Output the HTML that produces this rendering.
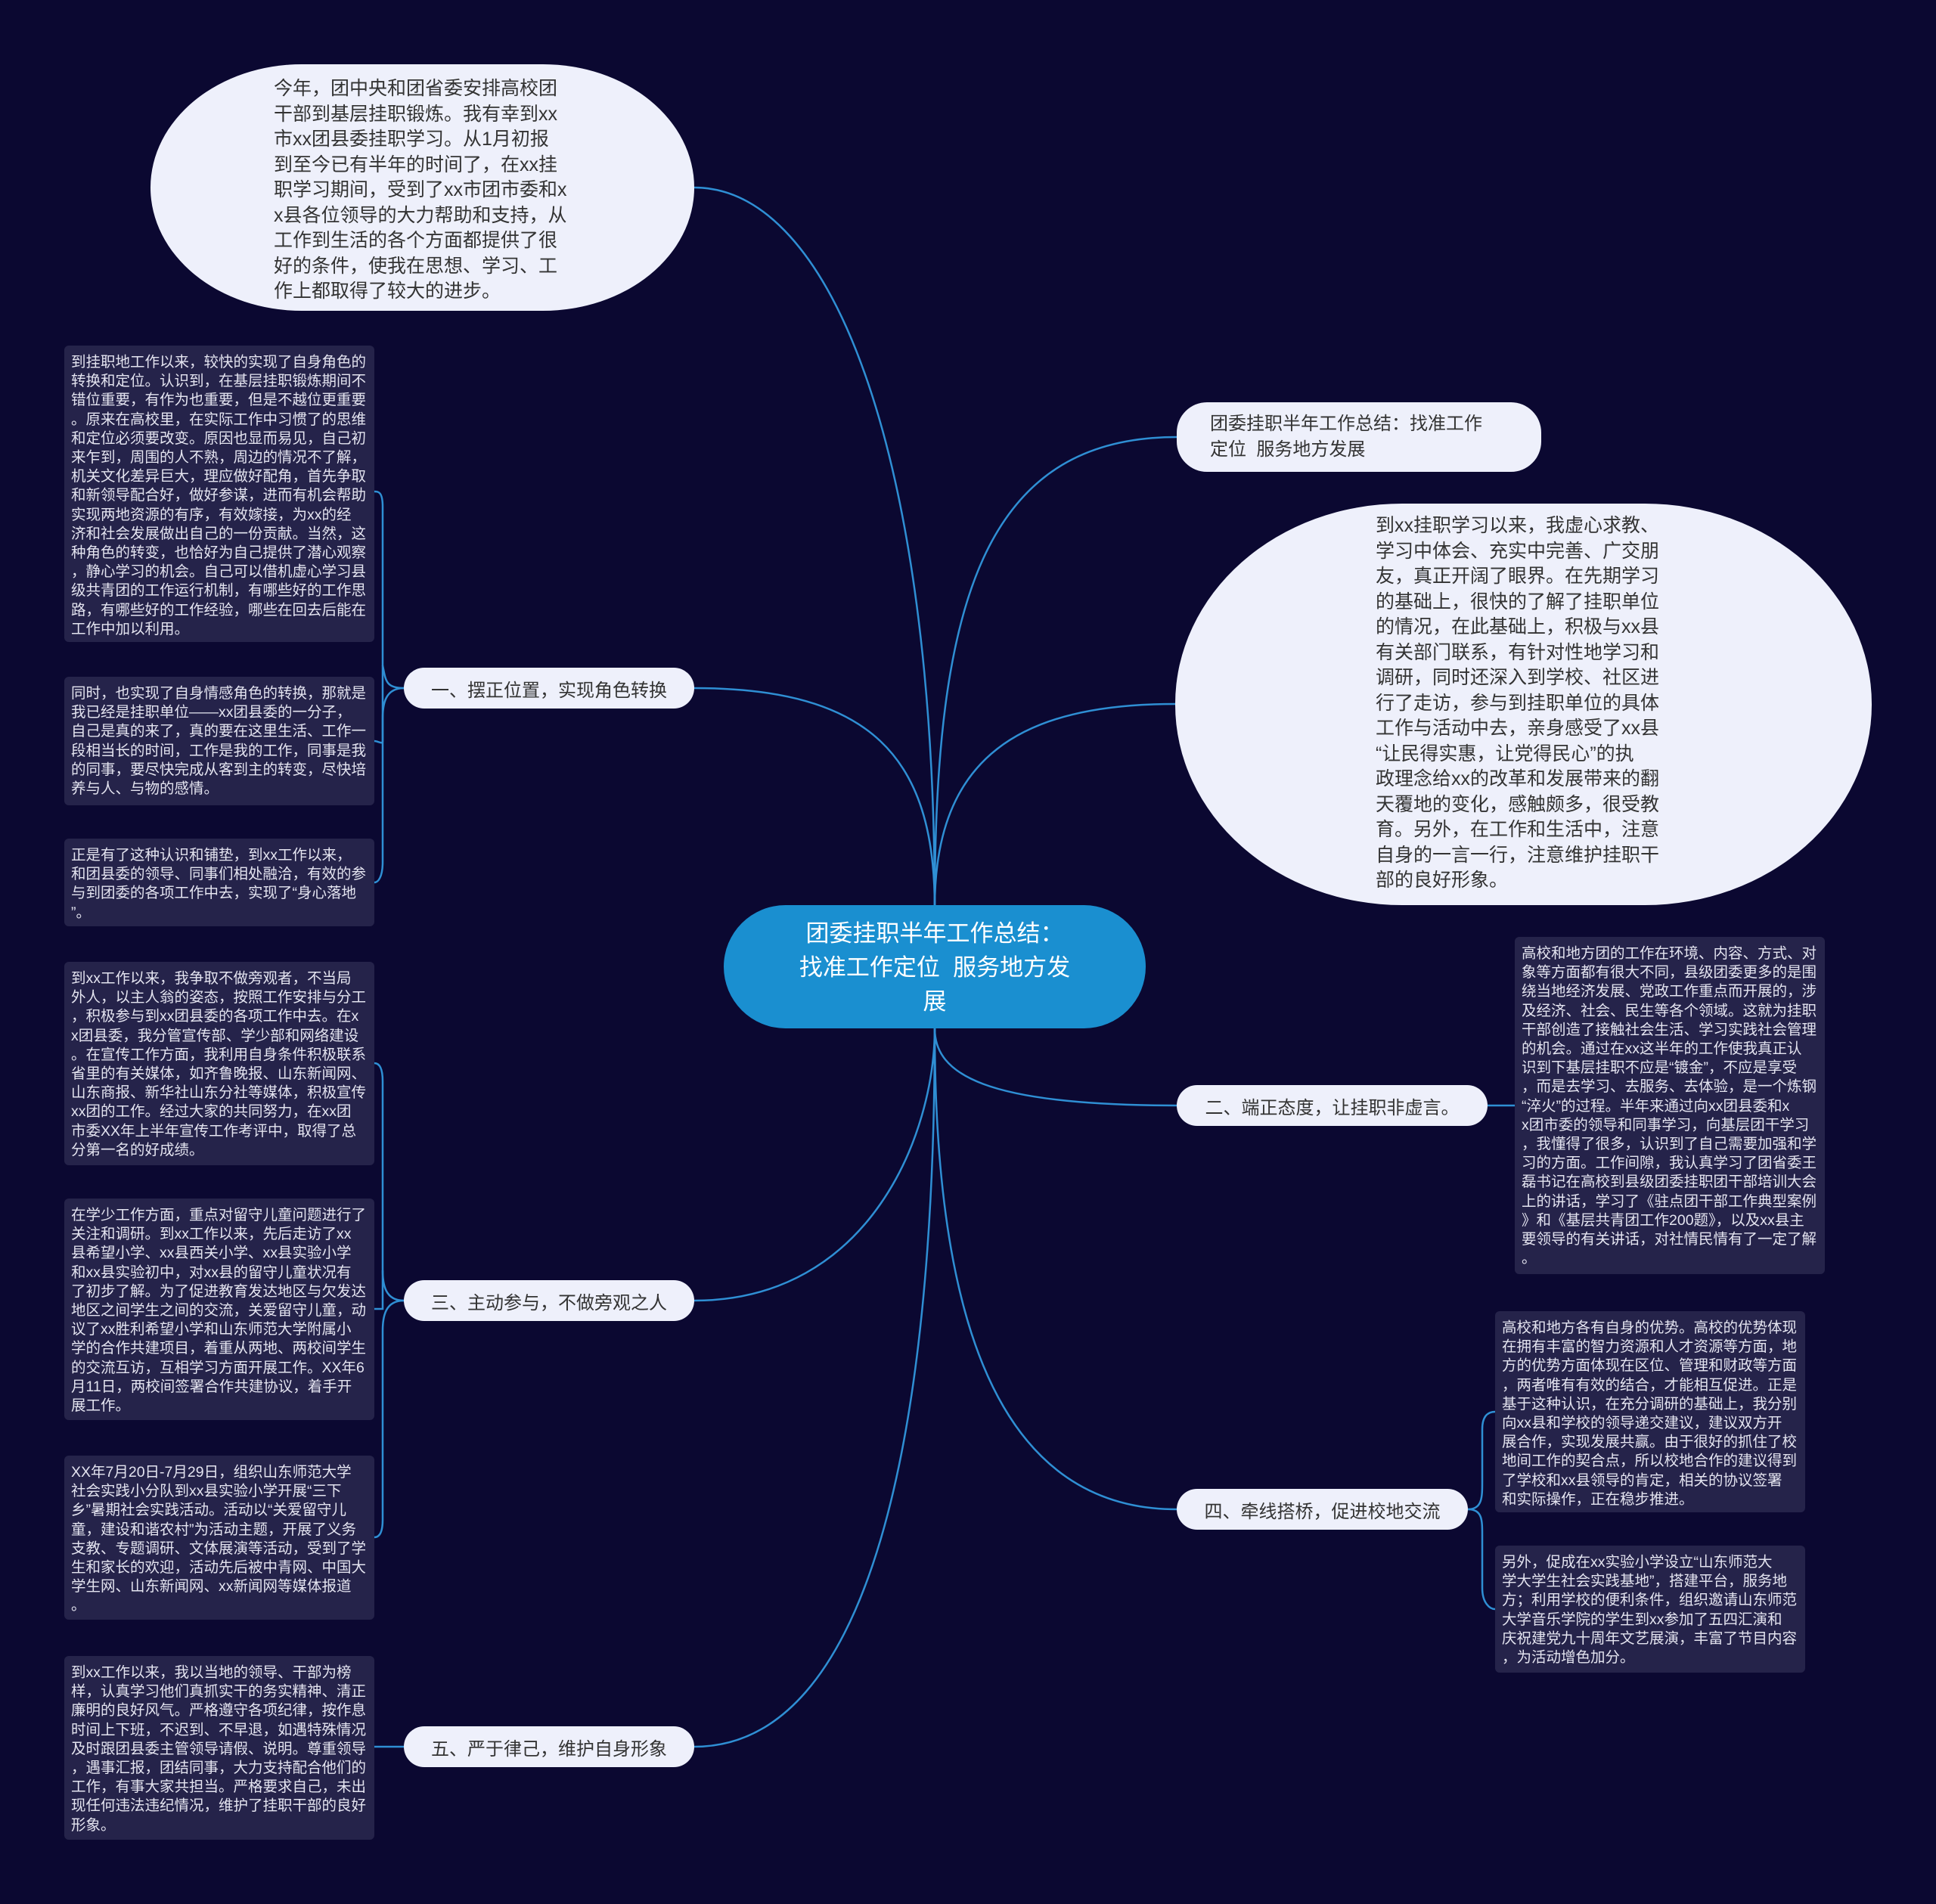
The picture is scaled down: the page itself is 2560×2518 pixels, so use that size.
<!DOCTYPE html>
<html><head><meta charset="utf-8">
<style>
body{margin:0;width:2560px;height:2518px;background:#0b0831;position:relative;overflow:hidden;font-family:"Liberation Sans","Noto Sans CJK SC",sans-serif;}
.a{position:absolute;box-sizing:border-box;}
.leaf{background:#25234a;color:#e4e4f0;font-size:19.5px;line-height:25.2px;padding:10px 9px;border-radius:6px;white-space:pre-line;}
.pill{background:#eef0fb;color:#333;font-size:24px;border-radius:40px;display:flex;align-items:center;justify-content:center;}
.ell{background:#eef0fb;color:#333;font-size:25px;line-height:33.5px;white-space:pre-line;}
svg{position:absolute;left:0;top:0;}
</style></head><body>
<svg width="2560" height="2518" fill="none" stroke="#2f8fd4" stroke-width="2.5">
<path d="M1236,1200 C1236,600 1100,248 918,248"/>
<path d="M1236,1200 C1236,800 1300,578 1556,578"/>
<path d="M1236,1200 C1236,1000 1350,931 1554,931"/>
<path d="M1236,1360 C1236,1420 1300,1462 1556,1462"/>
<path d="M1236,1360 C1236,1700 1300,1996 1556,1996"/>
<path d="M1236,1200 C1236,1000 1150,910 918,910"/>
<path d="M1236,1360 C1236,1500 1150,1720 918,1720"/>
<path d="M1236,1360 C1236,1900 1150,2310 918,2310"/>
<path d="M1967,1462 L2003,1462"/>
<path d="M534,910 C510,910 510,900 506,880 L506,670 C506,650 500,650 495,650"/>
<path d="M506,880 L506,980 C506,985 500,980 495,980"/>
<path d="M534,910 C510,910 506,930 506,950 L506,1140 C506,1160 500,1167 495,1167"/>
<path d="M534,1720 C510,1720 506,1700 506,1680 L506,1430 C506,1410 500,1406 495,1406"/>
<path d="M506,1680 L506,1731 L495,1731"/>
<path d="M534,1720 C510,1720 506,1740 506,1760 L506,2010 C506,2030 500,2033 495,2033"/>
<path d="M534,2310 C510,2310 495,2310 495,2310"/>
<path d="M1941,1996 C1960,1996 1960,1980 1960,1960 L1960,1890 C1960,1870 1970,1867 1977,1867"/>
<path d="M1941,1996 C1960,1996 1960,2010 1960,2030 L1960,2100 C1960,2120 1970,2128 1977,2128"/>
</svg>

<div class="a ell" style="left:199px;top:85px;width:719px;height:326px;padding:16px 0 0 163px;border-radius:200px / 163px;">今年，团中央和团省委安排高校团
干部到基层挂职锻炼。我有幸到xx
市xx团县委挂职学习。从1月初报
到至今已有半年的时间了，在xx挂
职学习期间，受到了xx市团市委和x
x县各位领导的大力帮助和支持，从
工作到生活的各个方面都提供了很
好的条件，使我在思想、学习、工
作上都取得了较大的进步。</div>

<div class="a" style="left:957px;top:1197px;width:558px;height:163px;background:#1a8fd0;border-radius:82px;color:#fff;font-size:31px;line-height:45px;text-align:center;padding-top:15px;">团委挂职半年工作总结：<br>找准工作定位&nbsp; 服务地方发<br>展</div>

<div class="a pill" style="left:1556px;top:532px;width:482px;height:92px;font-size:24px;line-height:34px;justify-content:flex-start;padding-left:44px;">团委挂职半年工作总结：找准工作<br>定位&nbsp; 服务地方发展</div>

<div class="a ell" style="left:1554px;top:666px;width:921px;height:531px;padding:13px 0 0 265px;border-radius:300px / 265px;">到xx挂职学习以来，我虚心求教、
学习中体会、充实中完善、广交朋
友，真正开阔了眼界。在先期学习
的基础上，很快的了解了挂职单位
的情况，在此基础上，积极与xx县
有关部门联系，有针对性地学习和
调研，同时还深入到学校、社区进
行了走访，参与到挂职单位的具体
工作与活动中去，亲身感受了xx县
“让民得实惠，让党得民心”的执
政理念给xx的改革和发展带来的翻
天覆地的变化，感触颇多，很受教
育。另外，在工作和生活中，注意
自身的一言一行，注意维护挂职干
部的良好形象。</div>

<div class="a pill" style="left:534px;top:883px;width:384px;height:54px;">一、摆正位置，实现角色转换</div>
<div class="a pill" style="left:534px;top:1693px;width:384px;height:54px;">三、主动参与，不做旁观之人</div>
<div class="a pill" style="left:534px;top:2283px;width:384px;height:54px;">五、严于律己，维护自身形象</div>
<div class="a pill" style="left:1556px;top:1435px;width:411px;height:54px;">二、端正态度，让挂职非虚言。</div>
<div class="a pill" style="left:1556px;top:1969px;width:385px;height:54px;">四、牵线搭桥，促进校地交流</div>

<div class="a leaf" style="left:85px;top:457px;width:410px;height:392px;">到挂职地工作以来，较快的实现了自身角色的
转换和定位。认识到，在基层挂职锻炼期间不
错位重要，有作为也重要，但是不越位更重要
。原来在高校里，在实际工作中习惯了的思维
和定位必须要改变。原因也显而易见，自己初
来乍到，周围的人不熟，周边的情况不了解，
机关文化差异巨大，理应做好配角，首先争取
和新领导配合好，做好参谋，进而有机会帮助
实现两地资源的有序，有效嫁接，为xx的经
济和社会发展做出自己的一份贡献。当然，这
种角色的转变，也恰好为自己提供了潜心观察
，静心学习的机会。自己可以借机虚心学习县
级共青团的工作运行机制，有哪些好的工作思
路，有哪些好的工作经验，哪些在回去后能在
工作中加以利用。</div>
<div class="a leaf" style="left:85px;top:895px;width:410px;height:170px;">同时，也实现了自身情感角色的转换，那就是
我已经是挂职单位——xx团县委的一分子，
自己是真的来了，真的要在这里生活、工作一
段相当长的时间，工作是我的工作，同事是我
的同事，要尽快完成从客到主的转变，尽快培
养与人、与物的感情。</div>
<div class="a leaf" style="left:85px;top:1109px;width:410px;height:116px;">正是有了这种认识和铺垫，到xx工作以来，
和团县委的领导、同事们相处融洽，有效的参
与到团委的各项工作中去，实现了“身心落地
”。</div>
<div class="a leaf" style="left:85px;top:1272px;width:410px;height:269px;">到xx工作以来，我争取不做旁观者，不当局
外人，以主人翁的姿态，按照工作安排与分工
，积极参与到xx团县委的各项工作中去。在x
x团县委，我分管宣传部、学少部和网络建设
。在宣传工作方面，我利用自身条件积极联系
省里的有关媒体，如齐鲁晚报、山东新闻网、
山东商报、新华社山东分社等媒体，积极宣传
xx团的工作。经过大家的共同努力，在xx团
市委XX年上半年宣传工作考评中，取得了总
分第一名的好成绩。</div>
<div class="a leaf" style="left:85px;top:1585px;width:410px;height:293px;">在学少工作方面，重点对留守儿童问题进行了
关注和调研。到xx工作以来，先后走访了xx
县希望小学、xx县西关小学、xx县实验小学
和xx县实验初中，对xx县的留守儿童状况有
了初步了解。为了促进教育发达地区与欠发达
地区之间学生之间的交流，关爱留守儿童，动
议了xx胜利希望小学和山东师范大学附属小
学的合作共建项目，着重从两地、两校间学生
的交流互访，互相学习方面开展工作。XX年6
月11日，两校间签署合作共建协议，着手开
展工作。</div>
<div class="a leaf" style="left:85px;top:1925px;width:410px;height:217px;">XX年7月20日-7月29日，组织山东师范大学
社会实践小分队到xx县实验小学开展“三下
乡”暑期社会实践活动。活动以“关爱留守儿
童，建设和谐农村”为活动主题，开展了义务
支教、专题调研、文体展演等活动，受到了学
生和家长的欢迎，活动先后被中青网、中国大
学生网、山东新闻网、xx新闻网等媒体报道
。</div>
<div class="a leaf" style="left:85px;top:2190px;width:410px;height:243px;">到xx工作以来，我以当地的领导、干部为榜
样，认真学习他们真抓实干的务实精神、清正
廉明的良好风气。严格遵守各项纪律，按作息
时间上下班，不迟到、不早退，如遇特殊情况
及时跟团县委主管领导请假、说明。尊重领导
，遇事汇报，团结同事，大力支持配合他们的
工作，有事大家共担当。严格要求自己，未出
现任何违法违纪情况，维护了挂职干部的良好
形象。</div>
<div class="a leaf" style="left:2003px;top:1239px;width:410px;height:446px;">高校和地方团的工作在环境、内容、方式、对
象等方面都有很大不同，县级团委更多的是围
绕当地经济发展、党政工作重点而开展的，涉
及经济、社会、民生等各个领域。这就为挂职
干部创造了接触社会生活、学习实践社会管理
的机会。通过在xx这半年的工作使我真正认
识到下基层挂职不应是“镀金”，不应是享受
，而是去学习、去服务、去体验，是一个炼钢
“淬火”的过程。半年来通过向xx团县委和x
x团市委的领导和同事学习，向基层团干学习
，我懂得了很多，认识到了自己需要加强和学
习的方面。工作间隙，我认真学习了团省委王
磊书记在高校到县级团委挂职团干部培训大会
上的讲话，学习了《驻点团干部工作典型案例
》和《基层共青团工作200题》，以及xx县主
要领导的有关讲话，对社情民情有了一定了解
。</div>
<div class="a leaf" style="left:1977px;top:1734px;width:410px;height:266px;">高校和地方各有自身的优势。高校的优势体现
在拥有丰富的智力资源和人才资源等方面，地
方的优势方面体现在区位、管理和财政等方面
，两者唯有有效的结合，才能相互促进。正是
基于这种认识，在充分调研的基础上，我分别
向xx县和学校的领导递交建议，建议双方开
展合作，实现发展共赢。由于很好的抓住了校
地间工作的契合点，所以校地合作的建议得到
了学校和xx县领导的肯定，相关的协议签署
和实际操作，正在稳步推进。</div>
<div class="a leaf" style="left:1977px;top:2044px;width:410px;height:168px;">另外，促成在xx实验小学设立“山东师范大
学大学生社会实践基地”，搭建平台，服务地
方；利用学校的便利条件，组织邀请山东师范
大学音乐学院的学生到xx参加了五四汇演和
庆祝建党九十周年文艺展演，丰富了节目内容
，为活动增色加分。</div>
</body></html>
